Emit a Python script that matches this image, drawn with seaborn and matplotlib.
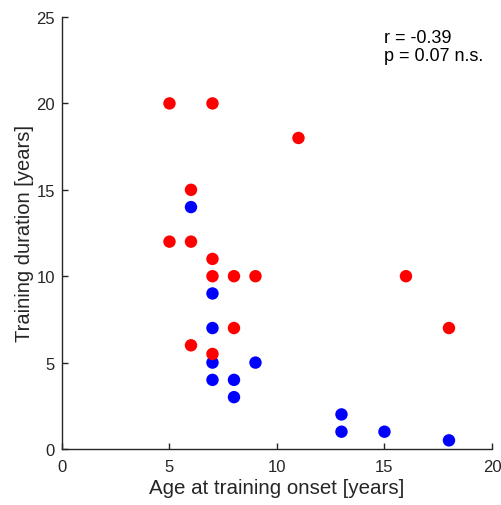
import matplotlib
matplotlib.use("Agg")
import matplotlib.pyplot as plt
import seaborn as sns
import pandas as pd

red_x = [5, 7, 11, 6, 5, 6, 7, 7, 8, 9, 16, 18, 8, 6, 7]
red_y = [20, 20, 18, 15, 12, 12, 11, 10, 10, 10, 10, 7, 7, 6, 5.5]
blue_x = [6, 7, 7, 7, 9, 7, 8, 8, 13, 13, 15, 18]
blue_y = [14, 9, 7, 5, 5, 4, 4, 3, 2, 1, 1, 0.5]

df = pd.DataFrame({
    "x": blue_x + red_x,
    "y": blue_y + red_y,
    "group": ["blue"] * len(blue_x) + ["red"] * len(red_x),
})

sns.set_style("white")
plt.rcParams['font.family'] = ['Liberation Sans', 'DejaVu Sans']
plt.rcParams['xtick.direction'] = 'in'
plt.rcParams['ytick.direction'] = 'in'

fig = plt.figure(figsize=(5.02, 5.06), dpi=100)
ax = fig.add_axes([0.1235, 0.1107, 0.8565, 0.8537])
sns.scatterplot(data=df, x="x", y="y", hue="group",
                palette={"blue": "#0000ff", "red": "#ff0000"},
                s=80, linewidth=0, legend=False, ax=ax)

ax.set_xlim(0, 20)
ax.set_ylim(0, 25)
ax.set_xticks([0, 5, 10, 15, 20])
ax.set_yticks([0, 5, 10, 15, 20, 25])
ax.set_xlabel("Age at training onset [years]", fontsize=14.8, color="#262626", labelpad=3)
ax.set_ylabel("Training duration [years]", fontsize=14.5, color="#262626", labelpad=2)
ax.tick_params(axis="both", bottom=True, left=True, direction="in", length=4, width=1,
               colors="#262626", labelsize=12)
ax.tick_params(axis="y", pad=5)
ax.tick_params(axis="x", pad=7)
for side in ["top", "right"]:
    ax.spines[side].set_visible(False)
for side in ["left", "bottom"]:
    ax.spines[side].set_color("#262626")
    ax.spines[side].set_linewidth(1)

ax.text(0.75, 0.973, "r = -0.39\np = 0.07 n.s.", transform=ax.transAxes,
        ha="left", va="top", fontsize=13, linespacing=1.1, color="black")

fig.savefig("out.png", dpi=100)
